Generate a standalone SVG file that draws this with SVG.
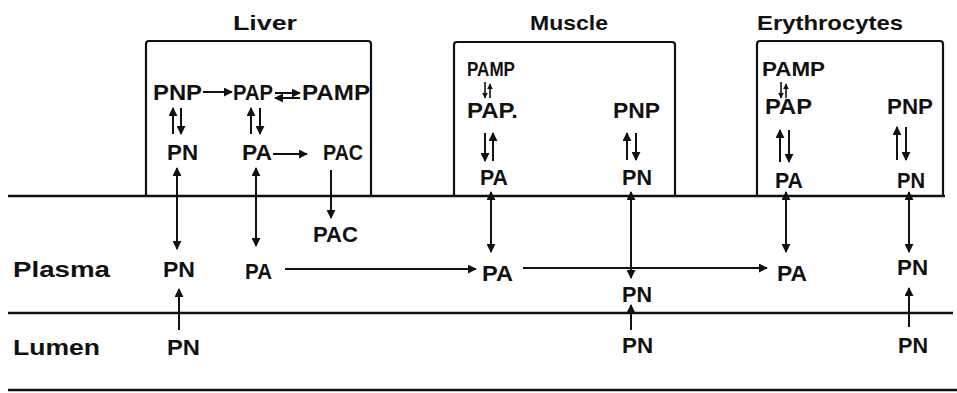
<svg xmlns="http://www.w3.org/2000/svg" width="957" height="393" viewBox="0 0 957 393">
<style>
text{font-family:"Liberation Sans",Arial,sans-serif;font-weight:bold;fill:#111;font-size:22px}
.t{font-size:21px}
.s{font-size:20px}
.box{fill:none;stroke:#111;stroke-width:2.2}
.ln{fill:none;stroke:#111;stroke-width:2.4}
.a{fill:none;stroke:#111;stroke-width:2}
.as{fill:none;stroke:#111;stroke-width:1.6}
</style>
<defs>
<marker id="h" viewBox="0 0 10 10" refX="9" refY="5" markerWidth="9" markerHeight="9" markerUnits="userSpaceOnUse" orient="auto-start-reverse">
<path d="M0,0 L10,5 L0,10 z" fill="#111"/>
</marker>
<marker id="hs" viewBox="0 0 10 10" refX="9" refY="5" markerWidth="6" markerHeight="6" markerUnits="userSpaceOnUse" orient="auto-start-reverse">
<path d="M0,0 L10,5 L0,10 z" fill="#111"/>
</marker>
</defs>
<rect width="957" height="393" fill="#fff"/>

<g id="compartments">
<line class="ln" x1="8" y1="196" x2="945" y2="196"/>
<line class="ln" x1="8" y1="313" x2="953" y2="313"/>
<line class="ln" x1="8" y1="390" x2="957" y2="390"/>
<text x="13" y="277" textLength="97" lengthAdjust="spacingAndGlyphs">Plasma</text>
<text x="13" y="355" textLength="87" lengthAdjust="spacingAndGlyphs">Lumen</text>
</g>

<g id="liver">
<path class="box" d="M146,196 V44 Q146,41 149,41 H368 Q371,41 371,44 V196"/>
<text class="t" x="233" y="30" textLength="64" lengthAdjust="spacingAndGlyphs">Liver</text>
<text x="153" y="100" textLength="49" lengthAdjust="spacingAndGlyphs">PNP</text>
<text x="233" y="100" textLength="40" lengthAdjust="spacingAndGlyphs">PAP</text>
<text x="302" y="100" textLength="68" lengthAdjust="spacingAndGlyphs">PAMP</text>
<text x="167" y="160" textLength="31" lengthAdjust="spacingAndGlyphs">PN</text>
<text x="242" y="160" textLength="30" lengthAdjust="spacingAndGlyphs">PA</text>
<text x="323" y="160" textLength="40" lengthAdjust="spacingAndGlyphs">PAC</text>
</g>

<g id="muscle">
<path class="box" d="M454,196 V45 Q454,42 457,42 H672 Q675,42 675,45 V196"/>
<text class="t" x="530" y="30" textLength="78" lengthAdjust="spacingAndGlyphs">Muscle</text>
<text class="s" x="467" y="76" textLength="48" lengthAdjust="spacingAndGlyphs">PAMP</text>
<text x="467" y="118" textLength="51" lengthAdjust="spacingAndGlyphs">PAP.</text>
<text x="613" y="118" textLength="47" lengthAdjust="spacingAndGlyphs">PNP</text>
<text x="480" y="185" textLength="28" lengthAdjust="spacingAndGlyphs">PA</text>
<text x="622" y="185" textLength="30" lengthAdjust="spacingAndGlyphs">PN</text>
</g>

<g id="erythrocytes">
<path class="box" d="M757,196 V44 Q757,41 760,41 H940 Q943,41 943,44 V196"/>
<text class="t" x="757" y="30" textLength="146" lengthAdjust="spacingAndGlyphs">Erythrocytes</text>
<text class="s" x="762" y="76" textLength="63" lengthAdjust="spacingAndGlyphs">PAMP</text>
<text x="765" y="114" textLength="47" lengthAdjust="spacingAndGlyphs">PAP</text>
<text x="887" y="114" textLength="46" lengthAdjust="spacingAndGlyphs">PNP</text>
<text x="775" y="188" textLength="28" lengthAdjust="spacingAndGlyphs">PA</text>
<text x="897" y="188" textLength="28" lengthAdjust="spacingAndGlyphs">PN</text>
</g>

<g id="plasma-nodes">
<text x="313" y="242" textLength="45" lengthAdjust="spacingAndGlyphs">PAC</text>
<text x="163" y="277" textLength="32" lengthAdjust="spacingAndGlyphs">PN</text>
<text x="245" y="279" textLength="27" lengthAdjust="spacingAndGlyphs">PA</text>
<text x="482" y="281" textLength="31" lengthAdjust="spacingAndGlyphs">PA</text>
<text x="622" y="302" textLength="30" lengthAdjust="spacingAndGlyphs">PN</text>
<text x="777" y="281" textLength="30" lengthAdjust="spacingAndGlyphs">PA</text>
<text x="897" y="275" textLength="31" lengthAdjust="spacingAndGlyphs">PN</text>
</g>

<g id="lumen-nodes">
<text x="167" y="355" textLength="33" lengthAdjust="spacingAndGlyphs">PN</text>
<text x="622" y="353" textLength="31" lengthAdjust="spacingAndGlyphs">PN</text>
<text x="898" y="353" textLength="30" lengthAdjust="spacingAndGlyphs">PN</text>
</g>

<g id="connectors">
<line class="a" x1="203" y1="92" x2="232" y2="92" marker-end="url(#h)"/>
<line class="a" x1="275" y1="93" x2="300" y2="93" marker-end="url(#h)"/>
<line class="a" x1="300" y1="98" x2="275" y2="98" marker-end="url(#h)"/>
<line class="a" x1="173" y1="134" x2="173" y2="108" marker-end="url(#h)"/>
<line class="a" x1="181" y1="108" x2="181" y2="134" marker-end="url(#h)"/>
<line class="a" x1="251" y1="134" x2="251" y2="108" marker-end="url(#h)"/>
<line class="a" x1="260" y1="108" x2="260" y2="134" marker-end="url(#h)"/>
<line class="a" x1="273" y1="154" x2="307" y2="154" marker-end="url(#h)"/>
<line class="a" x1="177" y1="168" x2="177" y2="249" marker-start="url(#h)" marker-end="url(#h)"/>
<line class="a" x1="256" y1="168" x2="256" y2="246" marker-start="url(#h)" marker-end="url(#h)"/>
<line class="a" x1="331" y1="170" x2="331" y2="218" marker-end="url(#h)"/>
<line class="a" x1="179" y1="330" x2="179" y2="289" marker-end="url(#h)"/>
<line class="a" x1="285" y1="269" x2="476" y2="269" marker-end="url(#h)"/>
<line class="a" x1="523" y1="268" x2="767" y2="268" marker-end="url(#h)"/>
<line class="as" x1="485" y1="82" x2="485" y2="98" marker-end="url(#hs)"/>
<line class="as" x1="490" y1="98" x2="490" y2="84" marker-end="url(#hs)"/>
<line class="a" x1="485" y1="133" x2="485" y2="161" marker-end="url(#h)"/>
<line class="a" x1="493" y1="161" x2="493" y2="133" marker-end="url(#h)"/>
<line class="a" x1="627" y1="160" x2="627" y2="133" marker-end="url(#h)"/>
<line class="a" x1="636" y1="133" x2="636" y2="160" marker-end="url(#h)"/>
<line class="a" x1="491" y1="192" x2="491" y2="252" marker-start="url(#h)" marker-end="url(#h)"/>
<line class="a" x1="631" y1="192" x2="631" y2="278" marker-start="url(#h)" marker-end="url(#h)"/>
<line class="a" x1="631" y1="330" x2="631" y2="305" marker-end="url(#h)"/>
<line class="as" x1="781" y1="82" x2="781" y2="98" marker-end="url(#hs)"/>
<line class="as" x1="786" y1="98" x2="786" y2="84" marker-end="url(#hs)"/>
<line class="a" x1="780" y1="162" x2="780" y2="130" marker-end="url(#h)"/>
<line class="a" x1="789" y1="130" x2="789" y2="162" marker-end="url(#h)"/>
<line class="a" x1="897" y1="160" x2="897" y2="127" marker-end="url(#h)"/>
<line class="a" x1="906" y1="127" x2="906" y2="160" marker-end="url(#h)"/>
<line class="a" x1="786" y1="192" x2="786" y2="252" marker-start="url(#h)" marker-end="url(#h)"/>
<line class="a" x1="909" y1="192" x2="909" y2="252" marker-start="url(#h)" marker-end="url(#h)"/>
<line class="a" x1="909" y1="327" x2="909" y2="288" marker-end="url(#h)"/>
</g>
</svg>
